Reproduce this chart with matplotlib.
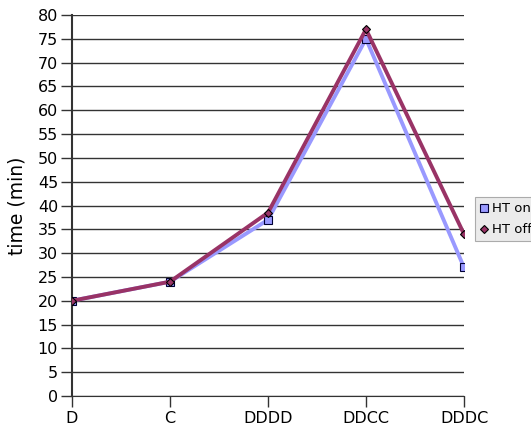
import matplotlib
matplotlib.use("Agg")
import matplotlib.pyplot as plt

categories = ["D", "C", "DDDD", "DDCC", "DDDC"]
ht_on = [20, 24, 37, 75, 27]
ht_off = [20, 24, 38.5, 77, 34]
yticks = list(range(0, 81, 5))

W, H = 531, 428
fig = plt.figure(figsize=(W/100, H/100), dpi=100)
ax = fig.add_axes([72/W, 1-396/H, (464-72)/W, (396-15)/H])

x = list(range(len(categories)))
ax.plot(x, ht_on, color="#9999FF", lw=2.8, marker="s", ms=6,
        mfc="#9999FF", mec="#000033", mew=0.8, label="HT on", zorder=3)
ax.plot(x, ht_off, color="#993366", lw=2.8, marker="D", ms=4,
        mfc="#993366", mec="#000000", mew=0.8, label="HT off", zorder=4)

ax.set_xlim(0, len(categories)-1)
ax.set_ylim(0, 80)
ax.set_yticks(yticks)
ax.set_xticks(x)
ax.set_xticklabels(categories)
for t in yticks:
    ax.axhline(t, color="#333333", lw=1, zorder=1)
for s in ["top", "right"]:
    ax.spines[s].set_visible(False)
ax.spines["left"].set_color("#333333")
ax.spines["bottom"].set_color("#333333")
ax.spines["left"].set_linewidth(1.5)
ax.tick_params(axis="y", length=8, width=1, color="#333333", labelsize=11.5, pad=2)
ax.tick_params(axis="x", length=8, width=1, color="#333333", labelsize=11.5, pad=3)
ax.set_ylabel("time (min)", fontsize=13.5, labelpad=8)

leg = ax.legend(loc="upper left", bbox_to_anchor=(475/W, 1-197/H),
                bbox_transform=fig.transFigure, fontsize=9.5,
                frameon=True, fancybox=False, facecolor="#E6E6E6",
                edgecolor="#999999", handlelength=0.5, handletextpad=0.4,
                borderpad=0.4, labelspacing=0.6, borderaxespad=0)
for h in leg.get_lines():
    h.set_linestyle("none")
leg.get_frame().set_linewidth(0.8)

fig.savefig("out.png", dpi=100)
